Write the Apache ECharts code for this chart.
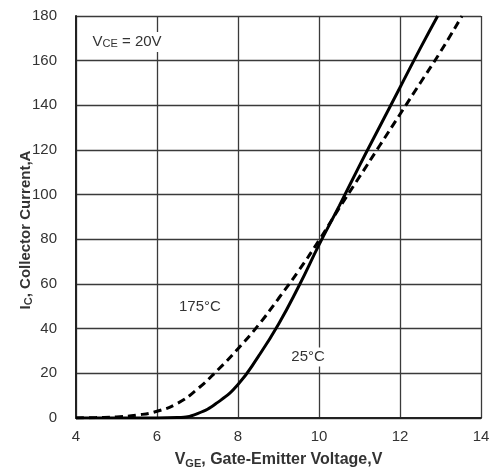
<!DOCTYPE html>
<html>
<head>
<meta charset="utf-8">
<script src="https://cdn.jsdelivr.net/npm/echarts@6/dist/echarts.min.js"></script>
<style>
  html, body { margin: 0; padding: 0; background: #fff; }
  #chart { width: 494px; height: 471px; }
</style>
</head>
<body>
<div id="chart"></div>
<script>
// transfer characteristic
const vge25 = [4, 5, 6, 6.5, 7, 7.5, 8, 8.5, 9, 9.5, 10, 10.5, 11, 11.5, 12, 12.5, 12.93];
const ic25 = [0, 0, 0, 0.2, 2, 7, 15, 27.5, 42, 59, 77.5, 95, 113, 130.5, 148, 165.5, 180];
const vge175 = [4, 4.5, 5, 5.5, 6, 6.5, 7, 7.5, 8, 8.5, 9, 9.5, 10, 10.5, 11, 11.5, 12, 12.5, 13, 13.53];
const ic175 = [0, 0.2, 0.5, 1.3, 3, 6.5, 13, 21.5, 31, 41.5, 53.5, 66, 79.5, 94, 108, 122, 136, 150, 164, 180];

const xTicks = [4, 6, 8, 10, 12, 14];
const yTicks = [0, 20, 40, 60, 80, 100, 120, 140, 160, 180];

const txt = "#333";
const gridCol = "#3a3a3a";
const font = "'Liberation Sans', Arial, sans-serif";

const pairs = (xs, ys) => xs.map((x, i) => [x, ys[i]]);

const myChart = echarts.init(document.getElementById("chart"));
const option = {
  animation: false,
  textStyle: { fontFamily: font },
  grid: { left: 76, right: 13, top: 16, bottom: 53, outerBoundsMode: "none" },
  xAxis: {
    type: "value",
    min: xTicks[0],
    max: xTicks[xTicks.length - 1],
    interval: 2,
    name: "{b|V}{s|GE}{b|, Gate-Emitter Voltage,V}",
    nameLocation: "middle",
    nameGap: 33,
    nameMoveOverlap: false,
    nameTextStyle: {
      rich: {
        b: { fontSize: 16, fontWeight: "bold", color: txt, fontFamily: font },
        s: { fontSize: 11, fontWeight: "bold", color: txt, fontFamily: font, verticalAlign: "bottom", padding: [7, 0, 0, 0] }
      }
    },
    axisLine: { lineStyle: { color: "#222", width: 2 } },
    axisTick: { show: false },
    axisLabel: { fontSize: 15, color: txt, margin: 11 },
    splitLine: { show: true, lineStyle: { color: gridCol, width: 1.3 } }
  },
  yAxis: {
    type: "value",
    min: yTicks[0],
    max: yTicks[yTicks.length - 1],
    interval: 20,
    name: "{b|I}{s|C}{b|, Collector Current,A}",
    nameLocation: "middle",
    nameGap: 42,
    nameMoveOverlap: false,
    nameTextStyle: {
      padding: [0, 26, 0, 0],
      rich: {
        b: { fontSize: 15, fontWeight: "bold", color: txt, fontFamily: font },
        s: { fontSize: 11, fontWeight: "bold", color: txt, fontFamily: font, verticalAlign: "bottom", padding: [6, 0, 0, 0] }
      }
    },
    axisLine: { show: true, lineStyle: { color: "#222", width: 2 } },
    axisTick: { show: false },
    axisLabel: { fontSize: 15, color: txt, margin: 19 },
    splitLine: { show: true, lineStyle: { color: gridCol, width: 1.3 } }
  },
  series: [
    {
      name: "25°C",
      type: "line",
      data: pairs(vge25, ic25),
      smooth: 0.5,
      showSymbol: false,
      lineStyle: { color: "#000", width: 3 },
      markPoint: {
        symbolSize: 0,
        label: {
          show: true,
          position: "inside",
          formatter: "{a|V}{s|CE}{a| = 20V}",
          backgroundColor: "#fff",
          padding: [2, 2],
          rich: {
            a: { fontSize: 15, color: txt, fontFamily: font },
            s: { fontSize: 11, color: txt, fontFamily: font, verticalAlign: "bottom", padding: [5, 0, 0, 0] }
          }
        },
        data: [{ coord: [5.26, 168.4] }]
      }
    },
    {
      name: "175°C",
      type: "line",
      data: pairs(vge175, ic175),
      smooth: 0.5,
      showSymbol: false,
      lineStyle: { color: "#000", width: 3, type: [8, 5] },
      markPoint: {
        symbolSize: 0,
        label: {
          show: true,
          position: "inside",
          fontSize: 15,
          color: txt,
          backgroundColor: "#fff",
          padding: [2, 1],
          formatter: (p) => p.name
        },
        data: [
          { name: "175°C", coord: [7.06, 49.7] },
          { name: "25°C", coord: [9.73, 27.3] }
        ]
      }
    }
  ]
};
myChart.setOption(option);
</script>
</body>
</html>
